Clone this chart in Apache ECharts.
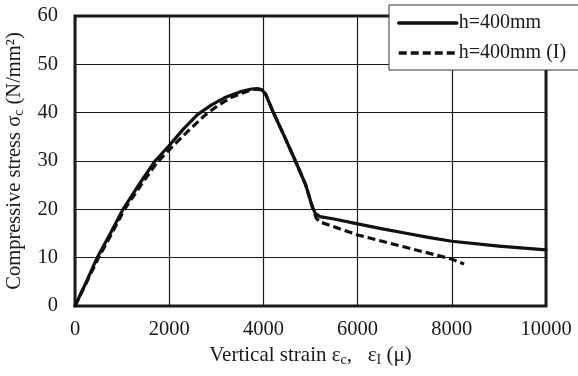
<!DOCTYPE html>
<html>
<head>
<meta charset="utf-8">
<script src="https://cdn.jsdelivr.net/npm/echarts@6/dist/echarts.min.js"></script>
<style>
  html, body { margin: 0; padding: 0; background: #fff; }
  #chart { width: 578px; height: 376px; }
</style>
</head>
<body>
<div id="chart"></div>
<script>
// strain (μ) / stress (N/mm2)
const solidStrain = [0, 250, 470, 750, 1020, 1350, 1700, 2000, 2300, 2600, 2900, 3200, 3500, 3750, 3870, 3960, 4050, 4190, 4450, 4680, 4900, 5040, 5100, 5200, 5500, 6000, 6500, 7000, 7500, 8000, 9000, 10000];
const solidStress = [0, 5.2, 10, 15, 20, 25, 30, 33.2, 36.6, 39.6, 41.6, 43.2, 44.3, 44.9, 45, 44.8, 43.8, 40.5, 35, 30, 25, 20.5, 19.2, 18.5, 18, 17, 16, 15.1, 14.2, 13.4, 12.4, 11.6];
const dashStrain = [0, 260, 500, 780, 1050, 1400, 1750, 2050, 2400, 2750, 3050, 3350, 3650, 3850, 3960, 4050, 4190, 4450, 4680, 4900, 5040, 5120, 5200, 6000, 7000, 8000, 8260];
const dashStress = [0, 5.2, 10, 15, 20, 25, 29.8, 32.8, 36.2, 39.4, 41.6, 43.3, 44.4, 44.9, 44.7, 43.8, 40.5, 35, 30, 25, 20.5, 18.2, 17.4, 14.7, 12.2, 9.7, 8.7];
const xTicks = [0, 2000, 4000, 6000, 8000, 10000];
const seriesNames = ['h=400mm', 'h=400mm (I)'];

const pairs = (xs, ys) => xs.map((x, i) => [x, ys[i]]);
const font = '"Liberation Serif", "DejaVu Serif", serif';
const ink = '#1a1a1a';

const chart = echarts.init(document.getElementById('chart'));
chart.setOption({
  animation: false,
  textStyle: { fontFamily: font, color: ink },
  grid: {
    left: 75, right: 32, top: 16, bottom: 70,
    outerBoundsMode: 'none', containLabel: false,
    show: true, borderColor: ink, borderWidth: 3, backgroundColor: 'transparent'
  },
  legend: {
    left: 389, top: 5,
    orient: 'vertical',
    backgroundColor: '#fff',
    borderColor: '#333', borderWidth: 1,
    padding: [8, 30, 7, 8],
    itemWidth: 58, itemHeight: 14, itemGap: 10,
    itemStyle: { opacity: 0 },
    lineStyle: { width: 3.5 },
    textStyle: { fontFamily: font, fontSize: 20, color: ink, padding: [0, 0, 0, -3] },
    data: seriesNames
  },
  xAxis: {
    type: 'value', min: 0, max: 10000, interval: 2000,
    axisLine: { show: false },
    axisTick: { show: false },
    splitLine: { lineStyle: { color: ink, width: 1.2 } },
    axisLabel: {
      fontFamily: font, fontSize: 20.5, color: ink, margin: 13,
      formatter: v => xTicks.includes(v) ? String(v) : ''
    },
    name: '{t|Vertical strain ε}{s|c}{t|,   ε}{s|I}{t| (μ)}',
    nameLocation: 'middle', nameGap: 38,
    nameTextStyle: {
      rich: {
        t: { fontFamily: font, fontSize: 21, color: ink },
        s: { fontFamily: font, fontSize: 14, color: ink, padding: [9, 0, 0, 0] }
      }
    }
  },
  yAxis: {
    type: 'value', min: 0, max: 60, interval: 10,
    axisLine: { show: false },
    axisTick: { show: false },
    splitLine: { lineStyle: { color: ink, width: 1.2 } },
    axisLabel: { fontFamily: font, fontSize: 20.5, color: ink, margin: 17 },
    name: '{t|Compressive stress σ}{s|c}{t| (N/mm²)}',
    nameLocation: 'middle', nameGap: 42,
    nameTextStyle: {
      rich: {
        t: { fontFamily: font, fontSize: 20.5, color: ink },
        s: { fontFamily: font, fontSize: 14, color: ink, padding: [9, 0, 0, 0] }
      }
    }
  },
  series: [
    {
      name: seriesNames[0], type: 'line', data: pairs(solidStrain, solidStress),
      symbol: 'none', showSymbol: false, smooth: false, z: 3,
      lineStyle: { color: '#111', width: 3.2, type: 'solid', join: 'round', cap: 'round' },
      itemStyle: { color: '#111' }
    },
    {
      name: seriesNames[1], type: 'line', data: pairs(dashStrain, dashStress),
      symbol: 'none', showSymbol: false, smooth: false, z: 2,
      lineStyle: { color: '#111', width: 3.2, type: [8, 4], join: 'round' },
      itemStyle: { color: '#111' }
    }
  ]
});
</script>
</body>
</html>
